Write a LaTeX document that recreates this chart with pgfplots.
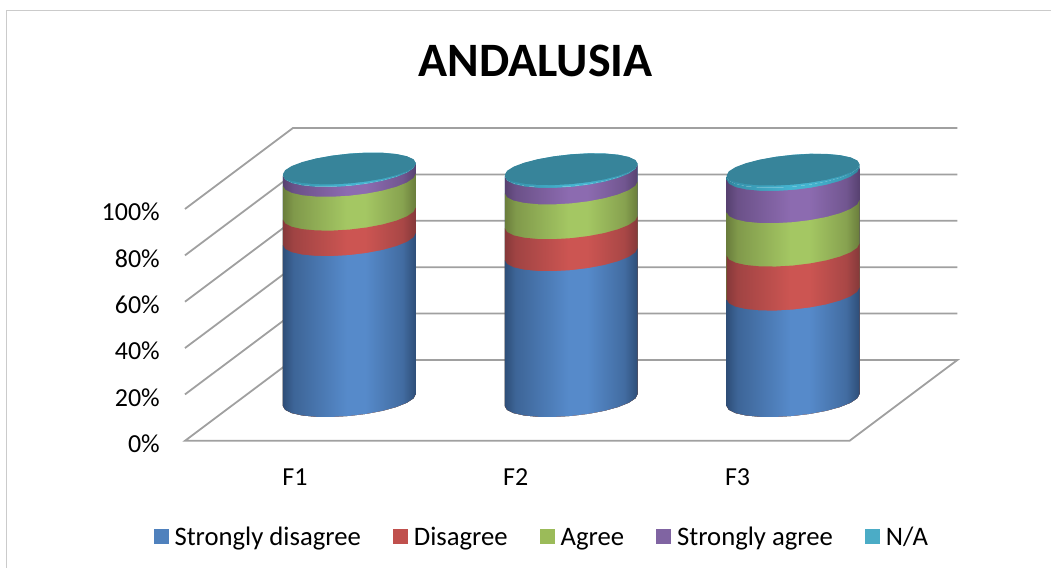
\documentclass[border=0pt]{standalone}
\usepackage{fontspec}
\setmainfont{Carlito}
\usepackage{pgfplots}
\usepackage{pgfplotstable}
\pgfplotsset{compat=1.18}

% legend colours
\definecolor{lgblue}{HTML}{4F81BD}
\definecolor{lgred}{HTML}{C0504D}
\definecolor{lggreen}{HTML}{9BBB59}
\definecolor{lgpurple}{HTML}{8064A2}
\definecolor{lgaqua}{HTML}{4BACC6}
\definecolor{wallgray}{HTML}{A0A0A0}
\definecolor{framegray}{HTML}{CBCBCB}
\definecolor{capteal}{HTML}{37849A}

% horizontal cylinder shading: dark edge, light centre, dark edge
\newcommand\cylshade[3]{%
  \definecolor{#1D}{HTML}{#2}\definecolor{#1L}{HTML}{#3}%
  \pgfdeclarehorizontalshading{#1}{100bp}{%
    color(0bp)=(#1D); color(25bp)=(#1D);
    color(29bp)=(#1D!62!#1L); color(49bp)=(#1L); color(56bp)=(#1L);
    color(70bp)=(#1D!50!#1L); color(75bp)=(#1D); color(100bp)=(#1D)}}
\cylshade{cblue}{2E4E78}{568ACA}
\cylshade{cred}{85393A}{CC5552}
\cylshade{cgreen}{6A7D3C}{A4C763}
\cylshade{cpurple}{574170}{8C6BB0}
\cylshade{caqua}{2F8199}{45B4D0}

% outline of a cylinder band in pixels about its centre: dx, up, lev
\pgfplotstableread{
dx up lev
-66.5 -6 0
-64.2 -9.94 0
-57.6 -13.2 0
-47 -15.55 0
-33.25 -16.86 0
-17.2 -17 0
0 -16 0
17.2 -13.9 0
33.25 -10.86 0
47 -7.07 0
57.6 -2.8 0
64.2 1.66 0
66.5 6 0
66.5 6 1
64.2 1.66 1
57.6 -2.8 1
47 -7.07 1
33.25 -10.86 1
17.2 -13.9 1
0 -16 1
-17.2 -17 1
-33.25 -16.86 1
-47 -15.55 1
-57.6 -13.2 1
-64.2 -9.94 1
-66.5 -6 1
}\bandshape
\pgfplotstableread{
dx up
-66.5 -6
-64.2 -9.94
-57.6 -13.2
-47 -15.55
-33.25 -16.86
-17.2 -17
0 -16
17.2 -13.9
33.25 -10.86
47 -7.07
57.6 -2.8
64.2 1.66
66.5 6
64.2 9.94
57.6 13.2
47 15.55
33.25 16.86
17.2 17
0 16
-17.2 13.9
-33.25 10.86
-47 7.07
-57.6 2.8
-64.2 -1.66
}\capshape

\def\pxpp{2.32}
\def\basey{17.0}
% #1 centre x, #2 top level of band, #3 shading
\newcommand\band[3]{%
  \addplot[forget plot,draw=none,shade,shading=#3] table[
    x expr=#1+\thisrow{dx},
    y expr=\basey+\thisrow{lev}*(#2)+(\thisrow{up}+(1-\thisrow{lev})*1.5)/\pxpp] {\bandshape};}
% #1 centre x, #2..#6 the five percentages
\newcommand\cylinder[6]{%
  \pgfmathsetmacro\cA{#2}%
  \pgfmathsetmacro\cB{#2+#3}%
  \pgfmathsetmacro\cC{#2+#3+#4}%
  \pgfmathsetmacro\cD{#2+#3+#4+#5}%
  \pgfmathsetmacro\cE{#2+#3+#4+#5+#6}%
  \band{#1}{\cE}{caqua}%
  \band{#1}{\cD}{cpurple}%
  \band{#1}{\cC}{cgreen}%
  \band{#1}{\cB}{cred}%
  \band{#1}{\cA}{cblue}%
  \addplot[forget plot,draw=none,shade,shading=caqua] table[
    x expr=#1+\thisrow{dx},
    y expr=\basey+\cE+\thisrow{up}/\pxpp] {\capshape};
  \addplot[forget plot,draw=none,fill=capteal] table[
    x expr=#1+\thisrow{dx},
    y expr=\basey+\cE+(\thisrow{up}*0.93+1)/\pxpp] {\capshape};}

\pgfplotsset{square legend/.style={legend image code/.code={%
  \fill[##1,draw=none] (0pt,-7.5pt) rectangle (15pt,7.5pt);}}}

\begin{document}
\begin{tikzpicture}
\begin{axis}[
  scale only axis, width=1052pt, height=568pt,
  xmin=0, xmax=1052, ymin=-54.74, ymax=190.09,
  clip=false,
  axis line style={draw=none},
  major tick length=0pt,
  ytick={0,20,40,60,80,100},
  yticklabels={0\%,20\%,40\%,60\%,80\%,100\%},
  yticklabel style={font=\fontsize{26}{26}\selectfont,anchor=east,xshift=160pt,yshift=-3pt,inner sep=0pt},
  xtick={295,516,738},
  xticklabels={F1,F2,F3},
  xticklabel style={font=\fontsize{26}{26}\selectfont,anchor=center,yshift=91pt,inner sep=0pt},
  legend style={at={(axis cs:541,-41.4)},anchor=center,draw=none,fill=none,
    font=\fontsize{26.7}{26.7}\selectfont,inner sep=0pt,
    nodes={text height=21pt,text depth=3pt,inner sep=0pt},
    /tikz/every even column/.append style={column sep=32pt},
    /tikz/every odd column/.append style={column sep=6pt}},
  legend columns=5,
  legend cell align=left,
]
% frame
\addplot[forget plot,framegray,line width=1.2pt] coordinates {(6.5,-54.74)(6.5,185.5)(1052,185.5)};
% walls and floor
\addplot[forget plot,wallgray,line width=1.8pt] coordinates {(185,100)(293,134.9)(958,134.9)};
\addplot[forget plot,wallgray,line width=1.8pt] coordinates {(185,80)(293,114.9)(958,114.9)};
\addplot[forget plot,wallgray,line width=1.8pt] coordinates {(185,60)(293,94.9)(958,94.9)};
\addplot[forget plot,wallgray,line width=1.8pt] coordinates {(185,40)(293,74.9)(958,74.9)};
\addplot[forget plot,wallgray,line width=1.8pt] coordinates {(185,20)(293,54.9)(958,54.9)};
\addplot[forget plot,wallgray,line width=1.8pt] coordinates {(293,34.9)(958,34.9)(850,0)(185,0)(293,34.9)};
% cylinders: strongly disagree, disagree, agree, strongly agree, N/A
\cylinder{349.5}{70}{11}{14.6}{4.2}{0.2}
\cylinder{571.5}{63.5}{13.8}{15}{7.1}{0.3}
\cylinder{793.5}{46.5}{19}{18.7}{13.9}{1.4}
% legend
\addlegendimage{square legend,fill=lgblue}\addlegendentry{Strongly disagree}
\addlegendimage{square legend,fill=lgred}\addlegendentry{Disagree}
\addlegendimage{square legend,fill=lggreen}\addlegendentry{Agree}
\addlegendimage{square legend,fill=lgpurple}\addlegendentry{Strongly agree}
\addlegendimage{square legend,fill=lgaqua}\addlegendentry{N/A}
\node[font=\fontsize{48}{48}\selectfont\bfseries] at (axis cs:536,164) {ANDALUSIA};
\end{axis}
\end{tikzpicture}
\end{document}
